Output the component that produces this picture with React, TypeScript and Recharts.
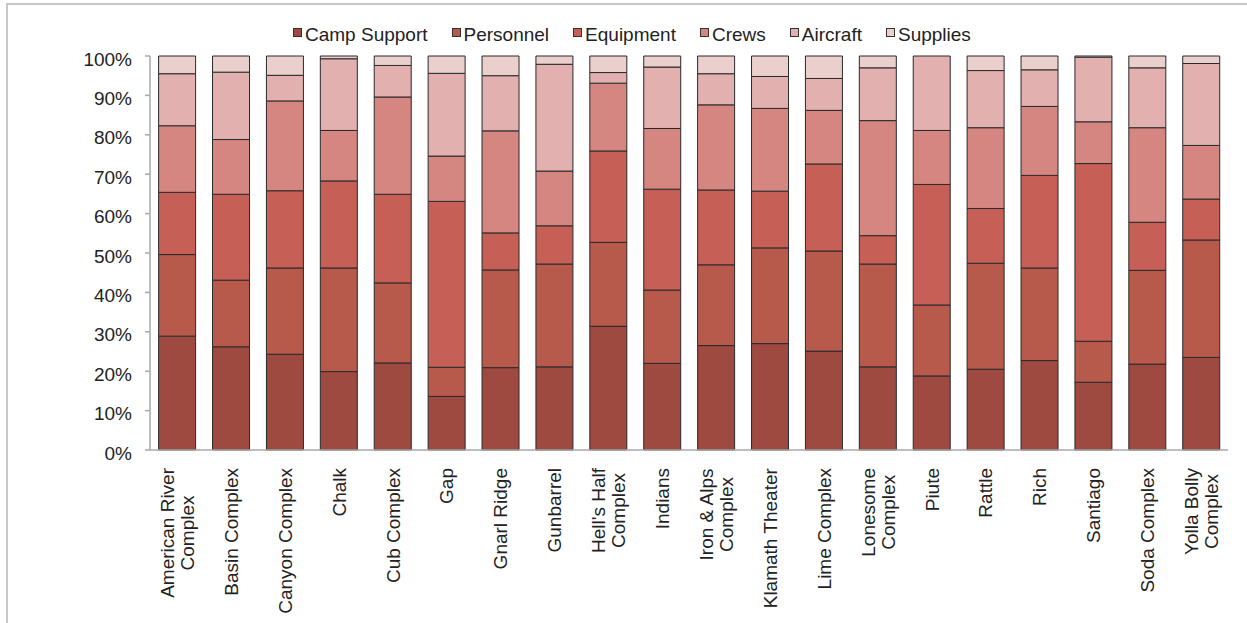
import { BarChart, Bar, XAxis, YAxis, Legend } from 'recharts';

const FONT = "'Liberation Sans', Arial, Helvetica, sans-serif";

const categories = [
  'American River\nComplex',
  'Basin Complex',
  'Canyon Complex',
  'Chalk',
  'Cub Complex',
  'Gap',
  'Gnarl Ridge',
  'Gunbarrel',
  "Hell's Half\nComplex",
  'Indians',
  'Iron & Alps\nComplex',
  'Klamath Theater',
  'Lime Complex',
  'Lonesome\nComplex',
  'Piute',
  'Rattle',
  'Rich',
  'Santiago',
  'Soda Complex',
  'Yolla Bolly\nComplex',
];

// share of cost per fire, in percent
const campSupport = [28.9, 26.2, 24.3, 19.9, 22.1, 13.6, 20.9, 21.1, 31.4, 22.0, 26.5, 27.0, 25.1, 21.1, 18.8, 20.5, 22.7, 17.2, 21.8, 23.5];
const personnel = [20.7, 16.9, 21.9, 26.3, 20.3, 7.4, 24.8, 26.1, 21.3, 18.6, 20.5, 24.3, 25.4, 26.1, 18.0, 26.9, 23.5, 10.4, 23.8, 29.8];
const equipment = [15.8, 21.8, 19.6, 22.1, 22.5, 42.1, 9.4, 9.7, 23.2, 25.6, 19.0, 14.4, 22.1, 7.2, 30.6, 13.9, 23.5, 45.1, 12.2, 10.4];
const crews = [16.9, 13.9, 22.8, 12.8, 24.7, 11.5, 25.9, 13.9, 17.2, 15.4, 21.6, 21.0, 13.6, 29.2, 13.7, 20.5, 17.5, 10.6, 24.0, 13.6];
const aircraft = [13.2, 17.1, 6.5, 18.2, 8.0, 21.0, 14.0, 27.1, 2.7, 15.6, 7.9, 8.1, 8.1, 13.4, 18.9, 14.5, 9.3, 16.4, 15.2, 20.8];
const supplies = [4.5, 4.1, 4.9, 0.7, 2.4, 4.4, 5.0, 2.1, 4.2, 2.8, 4.5, 5.2, 5.7, 3.0, 0, 3.7, 3.5, 0.3, 3.0, 1.9];

const yTicks = [0, 0.1, 0.2, 0.3, 0.4, 0.5, 0.6, 0.7, 0.8, 0.9, 1];

const SERIES = [
  { key: 'campSupport', name: 'Camp Support', color: '#9f4a40', values: campSupport },
  { key: 'personnel', name: 'Personnel', color: '#b75a4c', values: personnel },
  { key: 'equipment', name: 'Equipment', color: '#c65f56', values: equipment },
  { key: 'crews', name: 'Crews', color: '#d68680', values: crews },
  { key: 'aircraft', name: 'Aircraft', color: '#e2b0ae', values: aircraft },
  { key: 'supplies', name: 'Supplies', color: '#ebcfcc', values: supplies },
];

const data = categories.map((name, i) => {
  const row: Record<string, string | number> = { name };
  SERIES.forEach((s) => {
    row[s.key] = s.values[i];
  });
  return row;
});

// tick marks sit between the bars, so they get their own numeric axis
const edgeTicks = categories.map((_, i) => i).concat(categories.length);

const FS = 19;

const ctx = typeof document !== 'undefined' ? document.createElement('canvas').getContext('2d') : null;
function textWidth(s: string) {
  if (!ctx) return s.length * 9;
  ctx.font = `${FS}px ${FONT}`;
  return ctx.measureText(s).width;
}

// vertical fire names, hanging from the axis, multi-line names centered on each other
function FireTick({ x, y, payload }: any) {
  const lines = String(payload.value).split('\n');
  const longest = Math.max(...lines.map(textWidth));
  return (
    <text
      transform={`translate(${x},${y + 9}) rotate(-90)`}
      fontFamily={FONT}
      fontSize={FS}
      fill="#222"
      textAnchor="middle"
    >
      {lines.map((line, i) => (
        <tspan key={i} x={-longest / 2} y={(i - (lines.length - 1) / 2) * 20 + 7}>
          {line}
        </tspan>
      ))}
    </text>
  );
}

function PercentTick({ x, y, payload }: any) {
  return (
    <text x={x} y={y + 3} dy="0.35em" textAnchor="end" fontFamily={FONT} fontSize={FS} fill="#222">
      {Math.round(payload.value * 100)}%
    </text>
  );
}

function LegendRow() {
  return (
    <div style={{ display: 'flex', alignItems: 'center', fontFamily: FONT, fontSize: FS, color: '#222' }}>
      {SERIES.map((s) => (
        <div key={s.key} style={{ display: 'flex', alignItems: 'center', marginRight: 24 }}>
          <span
            style={{
              width: 7,
              height: 7,
              background: s.color,
              border: '1px solid #333',
              marginRight: 3,
              marginTop: -5,
            }}
          />
          <span>{s.name}</span>
        </div>
      ))}
    </div>
  );
}

export default function App() {
  return (
    <div style={{ position: 'absolute', left: 0, top: 0, width: 1247, height: 623, background: '#fff', overflow: 'hidden' }}>
      <div
        style={{
          position: 'absolute',
          left: 6,
          top: 3,
          width: 1260,
          height: 640,
          borderLeft: '2px solid #c8c8c8',
          borderTop: '2px solid #c8c8c8',
        }}
      />
      <BarChart
        width={1247}
        height={623}
        data={data}
        stackOffset="expand"
        barCategoryGap="16%"
        margin={{ top: 56, right: 19, bottom: 22, left: 0 }}
        style={{ position: 'absolute', left: 0, top: 0 }}
      >
        <XAxis
          type="number"
          domain={[0, categories.length]}
          ticks={edgeTicks}
          allowDataOverflow
          height={1}
          tick={false}
          tickSize={5}
          stroke="#a8a8a8"
          strokeWidth={1.5}
        />
        <XAxis
          xAxisId="names"
          dataKey="name"
          interval={0}
          height={150}
          axisLine={false}
          tickLine={false}
          tick={<FireTick />}
        />
        <YAxis
          width={150}
          domain={[0, 1]}
          ticks={yTicks}
          tickSize={5}
          tickMargin={13}
          stroke="#a8a8a8"
          strokeWidth={1.5}
          tick={<PercentTick />}
        />
        <Legend
          verticalAlign="middle"
          align="center"
          layout="horizontal"
          wrapperStyle={{ top: 24, left: 293, width: 'auto' }}
          content={<LegendRow />}
        />
        {SERIES.map((s) => (
          <Bar
            key={s.key}
            xAxisId="names"
            dataKey={s.key}
            name={s.name}
            stackId="cost"
            fill={s.color}
            stroke="#2a2a2a"
            strokeWidth={1}
            isAnimationActive={false}
          />
        ))}
      </BarChart>
    </div>
  );
}
